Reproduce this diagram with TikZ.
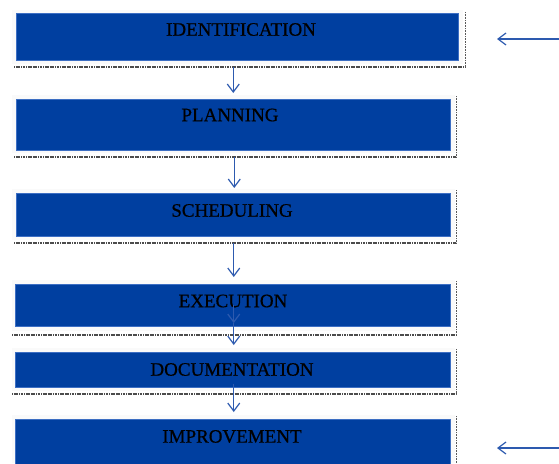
\documentclass[tikz,border=0pt]{standalone}
\usepackage{fontspec}
\setmainfont{Liberation Serif}
\newfontfamily\boxfont[FakeBold=0.6]{Liberation Serif}
\usetikzlibrary{arrows.meta,calc}
\definecolor{boxblue}{RGB}{0,63,160}
\definecolor{edgeblue}{RGB}{60,110,195}
\definecolor{arrowblue}{RGB}{45,90,175}
\tikzset{
  frame/.style={fill=gray!4},
  bluebox/.style={fill=boxblue, draw=edgeblue, line width=0.5pt, anchor=north west, inner sep=0pt},
  shadowb/.style={draw=gray!60!black, line width=2pt, dash pattern=on 1.2pt off 0.5pt},
  shadowr/.style={draw=gray!70!black, line width=0.7pt, dash pattern=on 0.8pt off 0.8pt},
  label/.style={font=\boxfont\fontsize{19}{19}\selectfont, text=black, inner sep=0pt},
  arr/.style={draw=arrowblue, line width=1.2pt, -{Straight Barb[length=8pt,width=12pt,line width=1.2pt]}},
}
\begin{document}
\begin{tikzpicture}[x=1pt,y=-1pt]
\useasboundingbox (0,0) rectangle (559,463);
% frames and shadows
\fill[frame] (12,10) rectangle (463,64);
\draw[shadowb] (14,67) -- (465,67);
\draw[shadowr] (465,12) -- (465,67);
\fill[frame] (12,95) rectangle (455,153);
\draw[shadowb] (14,157) -- (456,157);
\draw[shadowr] (456,96) -- (456,157);
\fill[frame] (12,189) rectangle (455,240);
\draw[shadowb] (14,243) -- (456,243);
\draw[shadowr] (456,190) -- (456,243);
\fill[frame] (12,280) rectangle (455,331);
\draw[shadowb] (12,335) -- (456,335);
\draw[shadowr] (456,281) -- (456,335);
\fill[frame] (12,348) rectangle (455,391);
\draw[shadowb] (12,394) -- (456,394);
\draw[shadowr] (456,349) -- (456,394);
\fill[frame] (12,415) rectangle (455,463);
\draw[shadowr] (456,416) -- (456,463);
% boxes
\node[bluebox, minimum width=442pt, minimum height=47pt] (b1) at (16,13) {};
\node[bluebox, minimum width=434pt, minimum height=51pt] (b2) at (16,99) {};
\node[bluebox, minimum width=434pt, minimum height=43pt] (b3) at (16,193) {};
\node[bluebox, minimum width=435pt, minimum height=42pt] (b4) at (15,284) {};
\node[bluebox, minimum width=435pt, minimum height=35pt] (b5) at (15,352) {};
\node[bluebox, minimum width=435pt, minimum height=45pt] (b6) at (15,419) {};
% labels
\node[label] (t1) at (241,29.5) {IDENTIFICATION};
\node[label] (t2) at (230,115) {PLANNING};
\node[label] (t3) at (232,210.5) {SCHEDULING};
\node[label] (t4) at (233,301) {EXECUTION};
\node[label] (t5) at (232,369.5) {DOCUMENTATION};
\node[label] (t6) at (232,436.5) {IMPROVEMENT};
% vertical arrows
\draw[arr] ($(b2.north)+(0,-32)$) -- ($(b2.north)+(0,-6)$);
\draw[arr] ($(b3.north)+(1,-36)$) -- ($(b3.north)+(1,-5)$);
\draw[arr] ($(b4.north)+(1,-41)$) -- ($(b4.north)+(1,-7)$);
\draw[arr] ($(b4.north)+(1,21)$) -- ($(b4.north)+(1,39)$);
\draw[arr] ($(b4.north)+(1,39)$) -- ($(b5.north)+(1,-7)$);
\draw[arr] ($(b5.south)+(1,-4)$) -- ($(b6.north)+(1,-7)$);
% side arrows
\coordinate (s1) at (559,39);
\coordinate (s2) at (559,448);
\draw[arr] (s1) -- (497,39);
\draw[arr] (s2) -- (497,448);
\end{tikzpicture}
\end{document}
